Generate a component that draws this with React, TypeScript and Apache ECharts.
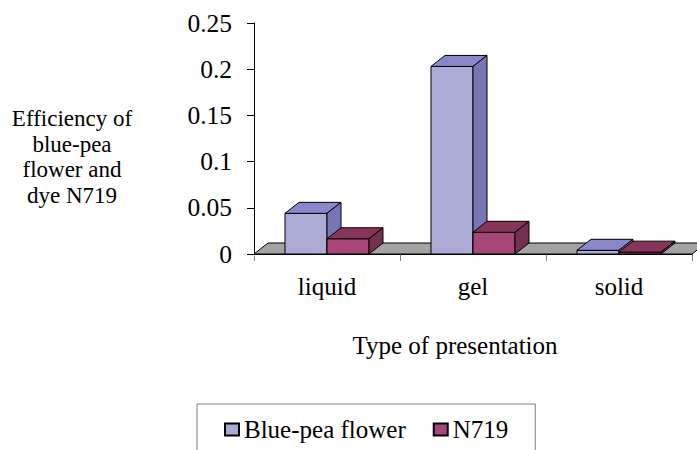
import React, { useEffect, useRef } from "react";
import * as echarts from "echarts";

const categories = ["liquid", "gel", "solid"];
const blueValues = [0.044, 0.203, 0.004];
const n719Values = [0.0165, 0.0235, 0.002];
const seriesNames = ["Blue-pea flower", "N719"];
const yTicks = { min: 0, max: 0.25, interval: 0.05 };

const FONT = '"Times New Roman", "Liberation Serif", "DejaVu Serif", serif';
const DX = 14;
const DY = -11;
const BAR_FRAC = 0.2877;

const BLUE = { front: "#ABABD6", top: "#8888CA", side: "#7676B4" };
const RED = { front: "#A8467A", top: "#88355A", side: "#74304F" };

function makeBarRender(offset: number, col: { front: string; top: string; side: string }) {
  return (params: any, api: any) => {
    const cat = api.value(0);
    const val = api.value(1);
    const [cx, yTop] = api.coord([cat, val]);
    const y0 = api.coord([cat, 0])[1];
    const bw = api.size([1, 0])[0] * BAR_FRAC;
    const x0 = cx + offset * bw;
    const x1 = x0 + bw;
    const stroke = { stroke: "#000", lineWidth: 1 };
    return {
      type: "group",
      children: [
        {
          type: "polygon",
          shape: { points: [[x0, yTop], [x1, yTop], [x1, y0], [x0, y0]] },
          style: { fill: col.front, ...stroke },
        },
        {
          type: "polygon",
          shape: { points: [[x0, yTop], [x0 + DX, yTop + DY], [x1 + DX, yTop + DY], [x1, yTop]] },
          style: { fill: col.top, ...stroke },
        },
        {
          type: "polygon",
          shape: { points: [[x1, yTop], [x1 + DX, yTop + DY], [x1 + DX, y0 + DY], [x1, y0]] },
          style: { fill: col.side, ...stroke },
        },
      ],
    };
  };
}

export default function App() {
  const ref = useRef<HTMLDivElement>(null);
  useEffect(() => {
    if (!ref.current) return;
    const chart = echarts.init(ref.current, null, { renderer: "svg" });
    chart.setOption({
      animation: false,
      textStyle: { fontFamily: FONT },
      grid: { left: 254, right: 5, top: 23, bottom: 196, containLabel: false },
      xAxis: {
        type: "category",
        data: categories,
        boundaryGap: true,
        axisLine: { show: true, lineStyle: { color: "#000", width: 1 } },
        axisTick: { show: true, length: 7, alignWithLabel: false, lineStyle: { color: "#808080" } },
        axisLabel: { margin: 20, color: "#000", fontSize: 25, fontFamily: FONT },
        splitLine: { show: false },
      },
      yAxis: {
        type: "value",
        min: yTicks.min,
        max: yTicks.max,
        interval: yTicks.interval,
        axisLine: { show: true, lineStyle: { color: "#000", width: 1 } },
        axisTick: { show: true, length: 7, lineStyle: { color: "#000" } },
        axisLabel: { margin: 22, color: "#000", fontSize: 25.5, fontFamily: FONT },
        splitLine: { show: false },
      },
      legend: {
        left: 197,
        top: 404,
        orient: "horizontal",
        borderColor: "#808080",
        borderWidth: 1,
        padding: [13, 27, 20, 27],
        itemGap: 27,
        itemWidth: 14,
        itemHeight: 12,
        textStyle: { fontSize: 25, fontFamily: FONT, color: "#000" },
        data: [
          { name: seriesNames[0], icon: "rect", itemStyle: { color: BLUE.front, borderColor: "#000", borderWidth: 2 } },
          { name: seriesNames[1], icon: "rect", itemStyle: { color: RED.front, borderColor: "#000", borderWidth: 2 } },
        ],
      },
      graphic: [
        {
          type: "text",
          x: 72,
          y: 106,
          style: {
            text: "Efficiency of\nblue-pea\nflower and\ndye N719",
            textAlign: "center",
            textVerticalAlign: "top",
            fontSize: 23,
            fontFamily: FONT,
            fill: "#000",
            lineHeight: 25.5,
          },
        },
        {
          type: "text",
          x: 455,
          y: 345,
          style: {
            text: "Type of presentation",
            textAlign: "center",
            textVerticalAlign: "middle",
            fontSize: 25,
            fontFamily: FONT,
            fill: "#000",
          },
        },
      ],
      series: [
        {
          type: "custom",
          name: "floor",
          silent: true,
          z: 1,
          data: [[0, 0]],
          renderItem: (params: any, api: any) => {
            const cs = params.coordSys;
            const y0 = api.coord([0, 0])[1];
            const xl = cs.x;
            const xr = cs.x + cs.width;
            return {
              type: "polygon",
              shape: { points: [[xl, y0], [xl + DX, y0 + DY], [xr + DX, y0 + DY], [xr, y0]] },
              style: { fill: "#A3A3A3", stroke: "#000", lineWidth: 1 },
            };
          },
        },
        {
          type: "custom",
          name: seriesNames[0],
          z: 2,
          itemStyle: { color: BLUE.front, borderColor: "#000", borderWidth: 2 },
          data: blueValues.map((v, i) => [i, v]),
          renderItem: makeBarRender(-1, BLUE),
        },
        {
          type: "custom",
          name: seriesNames[1],
          z: 3,
          itemStyle: { color: RED.front, borderColor: "#000", borderWidth: 2 },
          data: n719Values.map((v, i) => [i, v]),
          renderItem: makeBarRender(0, RED),
        },
      ],
    });
    return () => chart.dispose();
  }, []);
  return <div ref={ref} style={{ width: 697, height: 450, position: "absolute", left: 0, top: 0 }} />;
}
